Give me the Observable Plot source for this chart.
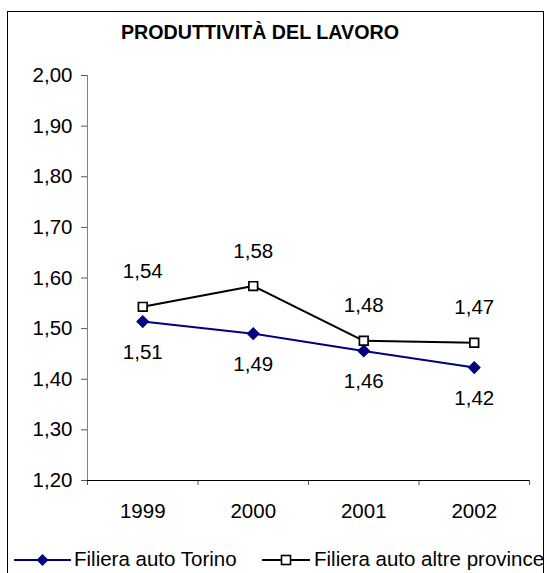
<!DOCTYPE html>
<html>
<head>
<meta charset="utf-8">
<script src="https://cdn.jsdelivr.net/npm/d3@7"></script>
<script src="https://cdn.jsdelivr.net/npm/@observablehq/plot@0.6"></script>
<style>
  body { margin: 0; background: #fff; }
  #wrap { position: relative; width: 547px; height: 573px; overflow: hidden; font-family: "Liberation Sans", Arial, sans-serif; }
  #frame { position: absolute; left: 7px; top: 11px; width: 537px; height: 620px; border: 1px solid #000; box-sizing: border-box; }
  #title { position: absolute; left: 0; top: 22px; width: 520px; text-align: center; font-weight: bold; font-size: 19.7px; line-height: 20px; color: #000; }
  #chart { position: absolute; left: 0; top: 0; }
  #legend { position: absolute; top: 549px; left: 0; width: 547px; height: 20px; font-size: 20.5px; line-height: 20px; color: #000; }
  .lg { position: absolute; top: 0; white-space: nowrap; }
  .sym { position: absolute; top: 0; }
</style>
</head>
<body>
<div id="wrap">
  <div id="frame"></div>
  <div id="chart"></div>
  <div id="title">PRODUTTIVITÀ DEL LAVORO</div>
  <div id="legend"></div>
</div>
<script>
const years = ["1999", "2000", "2001", "2002"];
const torino = [1.514, 1.490, 1.456, 1.423];
const altre = [1.543, 1.584, 1.476, 1.472];
const yTicks = [1.2, 1.3, 1.4, 1.5, 1.6, 1.7, 1.8, 1.9, 2.0];
const seriesNames = ["Filiera auto Torino", "Filiera auto altre province"];
const seriesColors = ["#000080", "#000000"];

const fmt = d => d.toFixed(2).replace(".", ",");
const rowsT = years.map((y, i) => ({pos: i + 0.5, value: torino[i], series: seriesNames[0]}));
const rowsA = years.map((y, i) => ({pos: i + 0.5, value: altre[i], series: seriesNames[1]}));
const catCenters = years.map((y, i) => i + 0.5);
const catEdges = [0, 1, 2, 3, 4];

const chart = Plot.plot({
  width: 547,
  height: 530,
  marginLeft: 87,
  marginRight: 18,
  marginTop: 75,
  marginBottom: 50,
  style: {fontFamily: '"Liberation Sans", Arial, sans-serif', fontSize: "20.5px", color: "#000", background: "transparent", overflow: "visible"},
  x: {domain: [0, 4]},
  y: {domain: [1.2, 2.0]},
  marks: [
    Plot.ruleX([0], {stroke: "#808080", strokeWidth: 1}),
    Plot.axisY({ticks: yTicks, tickFormat: fmt, tickSize: 6, tickPadding: 9, stroke: "#555", label: null}),
    Plot.axisX({ticks: catEdges, tickFormat: () => "", tickSize: 5, stroke: "#555", label: null}),
    Plot.axisX({ticks: catCenters, tickFormat: d => years[Math.floor(d)], tickSize: 0, tickPadding: 23, label: null}),
    Plot.ruleY([1.2], {stroke: "#000", strokeWidth: 1}),
    Plot.line(rowsT, {x: "pos", y: "value", stroke: seriesColors[0], strokeWidth: 2}),
    Plot.dot(rowsT, {x: "pos", y: "value", symbol: "square", rotate: 45, r: 4.7, fill: seriesColors[0], stroke: seriesColors[0], strokeWidth: 1}),
    Plot.line(rowsA, {x: "pos", y: "value", stroke: seriesColors[1], strokeWidth: 2}),
    Plot.dot(rowsA, {x: "pos", y: "value", symbol: "square", r: 4.9, fill: "#fff", stroke: seriesColors[1], strokeWidth: 1.7}),
    Plot.text(rowsA, {x: "pos", y: "value", text: d => fmt(d.value), dy: -35, fill: "#000"}),
    Plot.text(rowsT, {x: "pos", y: "value", text: d => fmt(d.value), dy: 31, fill: "#000"})
  ]
});
document.getElementById("chart").appendChild(chart);

// Legend
const legend = document.getElementById("legend");
const items = [
  {name: seriesNames[0], color: seriesColors[0], line: [14, 71], mark: "diamond", textLeft: 74},
  {name: seriesNames[1], color: seriesColors[1], line: [262, 310], mark: "square", textLeft: 314}
];
items.forEach(it => {
  const svg = d3.create("svg").attr("class", "sym")
    .attr("width", 547).attr("height", 20)
    .style("left", "0px").style("overflow", "visible");
  svg.append("line").attr("x1", it.line[0]).attr("x2", it.line[1])
    .attr("y1", 11).attr("y2", 11).attr("stroke", it.color).attr("stroke-width", 2);
  const cx = (it.line[0] + it.line[1]) / 2;
  if (it.mark === "diamond") {
    svg.append("path").attr("d", `M${cx},5L${cx + 6},11L${cx},17L${cx - 6},11Z`).attr("fill", it.color);
  } else {
    svg.append("rect").attr("x", cx - 4.5).attr("y", 6.5).attr("width", 9).attr("height", 9)
      .attr("fill", "#fff").attr("stroke", it.color).attr("stroke-width", 1.6);
  }
  legend.appendChild(svg.node());
  const t = document.createElement("div");
  t.className = "lg";
  t.style.left = it.textLeft + "px";
  t.textContent = it.name;
  legend.appendChild(t);
});
</script>
</body>
</html>
